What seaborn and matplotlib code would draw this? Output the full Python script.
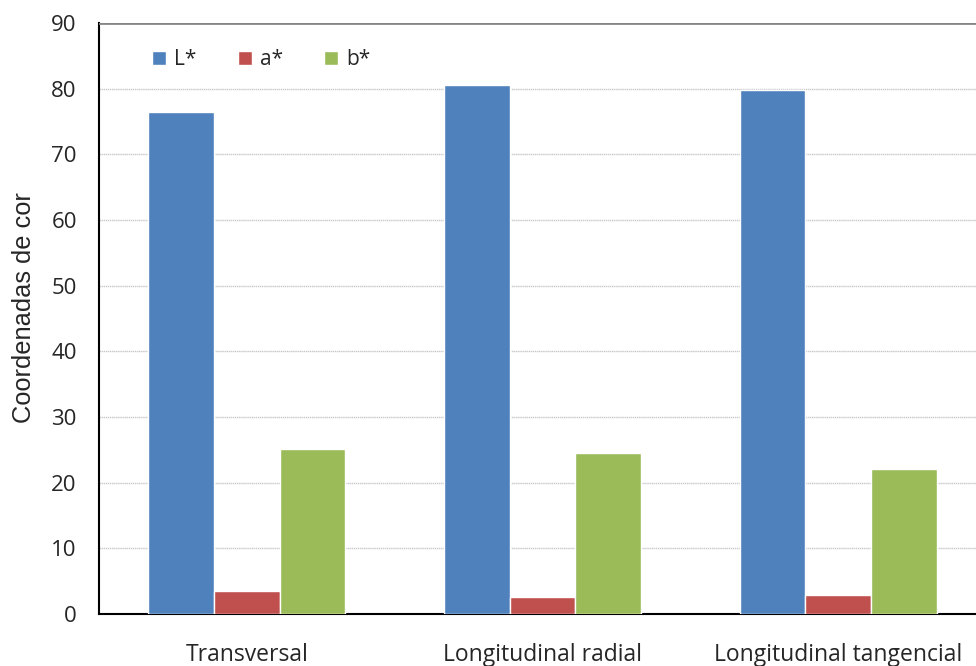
import matplotlib
matplotlib.use("Agg")
import matplotlib.pyplot as plt
import seaborn as sns
import pandas as pd

categories = ["Transversal", "Longitudinal radial", "Longitudinal tangencial"]
series = ["L*", "a*", "b*"]
L_vals = [76.5, 80.5, 79.8]
a_vals = [3.5, 2.6, 2.9]
b_vals = [25.1, 24.5, 22.1]
colors = ["#4F81BD", "#C0504D", "#9BBB59"]
yticks = [0, 10, 20, 30, 40, 50, 60, 70, 80, 90]

rows = []
for s, vals in zip(series, [L_vals, a_vals, b_vals]):
    for c, v in zip(categories, vals):
        rows.append({"cat": c, "serie": s, "val": v})
df = pd.DataFrame(rows)

sns.set_style("white")
plt.rcParams['font.family'] = ['Open Sans', 'DejaVu Sans']

fig = plt.figure(figsize=(9.76, 6.66), dpi=100)
W, H = 976, 666
x0, x1 = 99, 986
y0, y1 = 614, 23
ax = fig.add_axes([x0 / W, (H - y0) / H, (x1 - x0) / W, (y0 - y1) / H])

sns.barplot(data=df, x="cat", y="val", hue="serie", palette=colors,
            width=0.667, saturation=1, ax=ax, zorder=3, legend=True)

ax.set_xlim(-0.5, 2.5)
ax.set_ylim(0, 90)
ax.set_yticks(yticks)
ax.set_yticklabels([str(t) for t in yticks], fontsize=16)
for t in yticks[1:-1]:
    ax.axhline(t, color="#c8c8c8", lw=1, ls=(0, (1, 0.5)), zorder=1)
ax.axhline(90, color="#868686", lw=2, zorder=6)

ax.set_xticks([0, 1, 2])
ax.set_xticklabels(categories, fontsize=16.5)
ax.set_xticks([-0.5, 0.5, 1.5, 2.5], minor=True)
ax.tick_params(axis="x", which="major", length=0, pad=21)
ax.tick_params(axis="x", which="minor", length=7, width=1.5, color="black", direction="out")
ax.tick_params(axis="y", which="major", length=7, width=1.5, color="black", direction="out", pad=9)

for side in ["top", "right"]:
    ax.spines[side].set_visible(False)
ax.spines["left"].set_linewidth(1.5)
ax.spines["bottom"].set_linewidth(1.5)
ax.spines["left"].set_color("black")
ax.spines["bottom"].set_color("black")

ax.set_xlabel("")
ax.set_ylabel("Coordenadas de cor", fontsize=18.3, family=["Liberation Sans", "DejaVu Sans"])
ax.yaxis.set_label_coords(-0.0712, 0.5186)

leg = ax.legend(loc="upper left", bbox_to_anchor=(0.029, 1.002), ncol=3, frameon=True,
                fontsize=15, handlelength=0.67, handleheight=0.67, columnspacing=2.0,
                handletextpad=0.38, borderpad=0.8, fancybox=False)
leg.get_frame().set_edgecolor("white")
leg.get_frame().set_facecolor("white")
leg.get_frame().set_alpha(1)
leg.set_zorder(5)

fig.savefig("out.png", dpi=100)
